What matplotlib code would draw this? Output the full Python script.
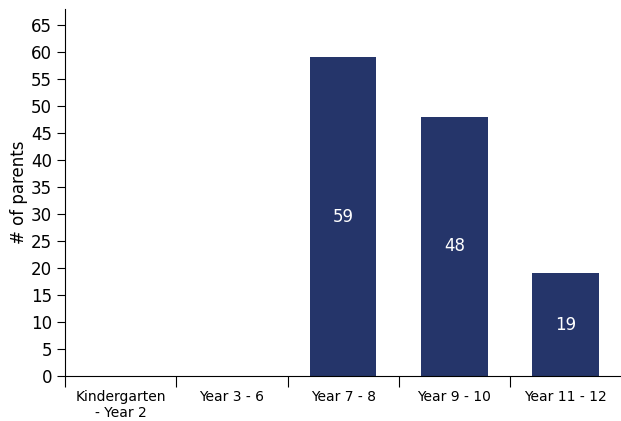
import matplotlib
matplotlib.use("Agg")
import matplotlib.pyplot as plt
import numpy as np

categories = ["Kindergarten\n- Year 2", "Year 3 - 6", "Year 7 - 8", "Year 9 - 10", "Year 11 - 12"]
values = [0, 0, 59, 48, 19]
yticks = list(range(0, 70, 5))

fig = plt.figure(figsize=(6.21, 4.21), dpi=100)
ax = fig.add_axes([0.105, 0.107, 0.895, 0.872])

x = np.arange(len(categories))
bars = ax.bar(x, values, width=0.6, color="#25356a")
for xi, v in zip(x, values):
    if v > 0:
        ax.text(xi, v / 2, str(v), ha="center", va="center", color="white", fontsize=12)

ax.set_xlim(-0.5, len(categories) - 0.5)
ax.set_ylim(0, 68)
ax.set_yticks(yticks)
ax.tick_params(axis="y", labelsize=12, length=6)
ax.set_xticks(np.arange(-0.5, len(categories) - 0.5, 1))
ax.set_xticklabels([])
ax.tick_params(axis="x", which="major", length=8)
ax.set_xticks(x, minor=True)
ax.set_xticklabels(categories, minor=True, fontsize=10)
ax.tick_params(axis="x", which="minor", length=0, pad=10)
ax.set_ylabel("# of parents", fontsize=12, labelpad=2)
ax.spines["top"].set_visible(False)
ax.spines["right"].set_visible(False)

fig.savefig("out.png", dpi=100)
